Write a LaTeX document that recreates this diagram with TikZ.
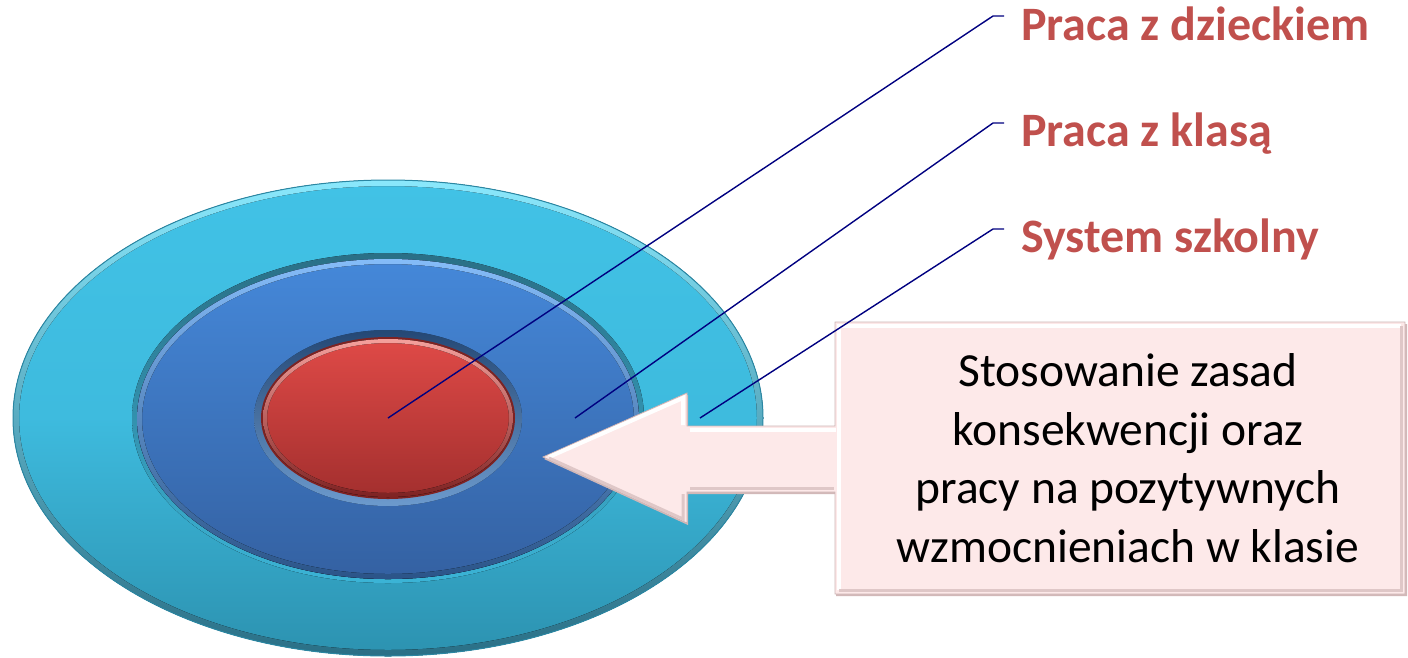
\documentclass[tikz,border=0pt]{standalone}
\usepackage{fontspec}
\setmainfont{Carlito}
\definecolor{cyanTop}{HTML}{41C2E6}
\definecolor{cyanBot}{HTML}{2C92B0}
\definecolor{cyanEdge}{HTML}{2A87A3}
\definecolor{cyanHi}{HTML}{8AE8FC}
\definecolor{cyanDark}{HTML}{2A6F86}
\definecolor{blueTop}{HTML}{4588D9}
\definecolor{blueBot}{HTML}{3461A2}
\definecolor{blueHi}{HTML}{85BCF8}
\definecolor{blueDark}{HTML}{2B5488}
\definecolor{redTop}{HTML}{DF4A47}
\definecolor{redBot}{HTML}{A32F2E}
\definecolor{redHi}{HTML}{F4A09C}
\definecolor{redDark}{HTML}{7E2222}
\definecolor{leadClr}{HTML}{000080}
\definecolor{lblClr}{HTML}{C0504D}
\definecolor{pinkFill}{HTML}{FDE9E9}
\definecolor{pinkEdge}{HTML}{CDB4B4}
\definecolor{pinkShade}{HTML}{D2B8B8}
\tikzset{
  leader/.style={draw=leadClr, line width=1.4pt},
  lbl/.style={font=\fontsize{48}{55}\selectfont\bfseries, text=lblClr, inner sep=0pt, anchor=base west},
  boxtext/.style={font=\fontsize{47.5}{58.5}\selectfont, text=black, inner sep=0pt, align=center, anchor=base}
}
\begin{document}
\begin{tikzpicture}[x=1pt,y=-1pt]
\useasboundingbox (0,0) rectangle (1408,657);
% outer ring
\fill[top color=cyanTop, bottom color=cyanBot, middle color=cyanTop!85!cyanBot] (388,418) ellipse [x radius=375, y radius=238];
\fill[even odd rule, top color=cyanHi, middle color=cyanTop!80!cyanBot, bottom color=cyanDark]
  (388,418) ellipse [x radius=375, y radius=238] (388,418) ellipse [x radius=369, y radius=232];
\draw[cyanEdge, line width=1pt] (388,418) ellipse [x radius=375, y radius=238];
% middle
\fill[top color=cyanDark, bottom color=cyanTop!70!cyanBot] (388,418) ellipse [x radius=256, y radius=165];
\fill[top color=blueTop, bottom color=blueBot] (388,419) ellipse [x radius=251, y radius=160];
\fill[even odd rule, top color=blueHi, middle color=blueTop!60!blueBot, bottom color=blueDark]
  (388,419) ellipse [x radius=251, y radius=160] (388,419) ellipse [x radius=246, y radius=155];
% bevel around inner hole
\fill[even odd rule, top color=blueDark, middle color=blueTop!60!blueBot, bottom color=blueHi, opacity=0.8]
  (388,418) ellipse [x radius=134, y radius=88] (388,418) ellipse [x radius=126, y radius=80];
% red
\fill[redDark] (388,418) ellipse [x radius=127, y radius=81];
\fill[top color=redTop, bottom color=redBot] (388,418) ellipse [x radius=125, y radius=79];
\fill[even odd rule, top color=redHi, middle color=redTop!55!redBot, bottom color=redDark]
  (388,418) ellipse [x radius=125, y radius=79] (388,418) ellipse [x radius=121, y radius=75];
% callout arrow box
\fill[pinkShade] (836,324) -- (1407,324) -- (1407,596) -- (836,596) -- (836,494) -- (688,494) -- (688,525) -- (544,459) -- (688,395) -- (688,428) -- (836,428) -- cycle;
\path[fill=pinkFill, draw=pinkEdge, line width=0.8pt]
  (835,322) -- (1405,322) -- (1405,594) -- (835,594) -- (835,492) -- (687,492) -- (687,523) -- (543,457) -- (687,393) -- (687,426) -- (835,426) -- cycle;
\draw[white, line width=4pt, line join=miter] (839,590) -- (839,326) -- (1401,326);
\draw[white, line width=4pt] (690,430) -- (836,430);
\draw[white, line width=4pt] (549,457) -- (683,398) -- (683,425);
\draw[pinkShade!70!pinkFill, line width=3pt] (1401,326) -- (1401,590) -- (839,590);
\draw[pinkShade!70!pinkFill, line width=3pt] (690,488) -- (834,488);
\draw[pinkShade!70!pinkFill, line width=3pt] (549,458) -- (683,519) -- (683,494);
\node[boxtext] (txt) at (1128,562) {Stosowanie zasad\\konsekwencji oraz\\pracy na pozytywnych\\wzmocnieniach w klasie};
% labels
\node[lbl] (l1) at (1021,40) {Praca z dzieckiem};
\node[lbl] (l2) at (1021,146) {Praca z klasą};
\node[lbl] (l3) at (1021,252) {System szkolny};
% leader lines
\coordinate (t1) at (388,418);
\coordinate (t2) at (575,418);
\coordinate (t3) at (700,418);
\coordinate (k1) at (993,16);
\coordinate (k2) at (993,123);
\coordinate (k3) at (993,229);
\coordinate (e1) at (1004,16);
\coordinate (e2) at (1004,123);
\coordinate (e3) at (1004,229);
\draw[leader] (t1) -- (k1) -- (e1);
\draw[leader] (t2) -- (k2) -- (e2);
\draw[leader] (t3) -- (k3) -- (e3);
\end{tikzpicture}
\end{document}
